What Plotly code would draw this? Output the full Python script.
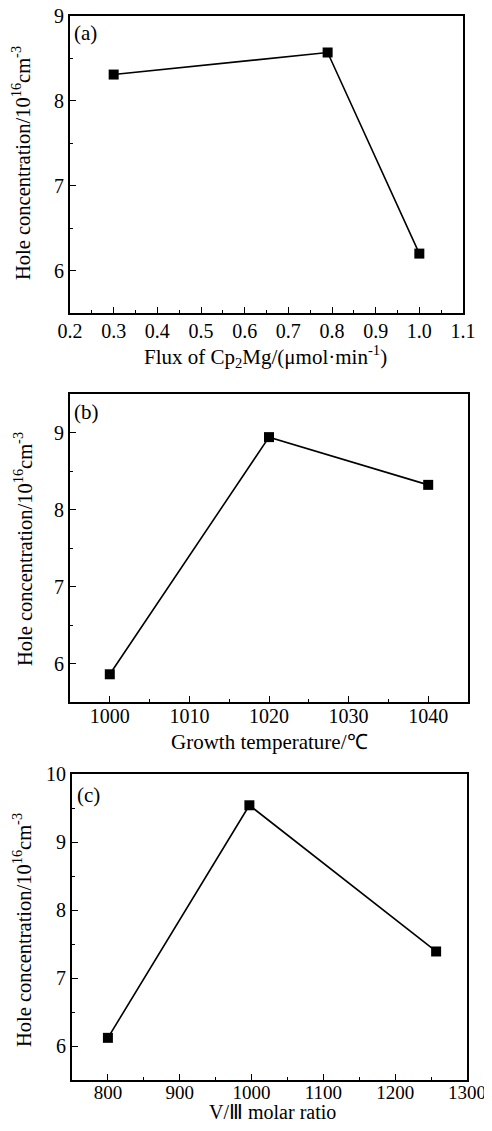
import plotly.graph_objects as go

# Panel (a)
flux = [0.3, 0.79, 1.0]
hole_a = [8.31, 8.57, 6.2]
# Panel (b)
temp = [1000, 1020, 1040]
hole_b = [5.86, 8.94, 8.32]
# Panel (c)
ratio = [800, 997, 1257]
hole_c = [6.12, 9.54, 7.39]

# page body has an 8px margin on every side: figure fills 492x1131 minus 16px
OFF = 8
W, H = 492 - 2 * OFF, 1131 - 2 * OFF
FONT = "Liberation Serif, Times New Roman, serif"

def px_x(a, b):
    return [(a - OFF) / W, (b - OFF) / W]

def px_y(top, bottom):
    return [1 - (bottom - OFF) / H, 1 - (top - OFF) / H]

fig = go.Figure()
series = [(flux, hole_a, "x", "y"), (temp, hole_b, "x2", "y2"), (ratio, hole_c, "x3", "y3")]
for xs, ys, xa, ya in series:
    fig.add_trace(go.Scatter(x=xs, y=ys, xaxis=xa, yaxis=ya, mode="lines+markers",
                             line=dict(color="black", width=1.6),
                             marker=dict(symbol="square", size=10, color="black"),
                             showlegend=False))

def xax(domain, rng, dtick, t0, minor, fmt, anchor, size=20, standoff=0):
    return dict(domain=domain, range=rng, dtick=dtick, tick0=t0, ticks="inside", ticklen=6,
                tickwidth=1.3, tickcolor="black", showline=True, linecolor="black", linewidth=1.8,
                mirror=True, showgrid=False, zeroline=False, tickformat=fmt, anchor=anchor,
                automargin=False, ticklabeloverflow="allow", ticklabelstandoff=standoff,
                minor=dict(dtick=minor, ticks="inside", ticklen=3, tickcolor="black", showgrid=False),
                tickfont=dict(family=FONT, size=size, color="black"))

def yax(domain, rng, anchor):
    return dict(domain=domain, range=rng, dtick=1, tick0=6, ticks="inside", ticklen=6,
                tickwidth=1.3, tickcolor="black", showline=True, linecolor="black", linewidth=1.8,
                mirror=True, showgrid=False, zeroline=False, anchor=anchor, automargin=False,
                ticklabeloverflow="allow",
                minor=dict(dtick=0.5, ticks="inside", ticklen=3, tickcolor="black", showgrid=False),
                tickfont=dict(family=FONT, size=20, color="black"))

fig.update_layout(
    width=W, height=H, margin=dict(l=0, r=0, t=0, b=0, autoexpand=False),
    paper_bgcolor="white", plot_bgcolor="white",
    xaxis=xax(px_x(70, 463), [0.2, 1.1], 0.1, 0.2, 0.05, ".1f", "y", standoff=-1),
    yaxis=yax(px_y(16, 313), [5.5, 9], "x"),
    xaxis2=xax(px_x(70, 468), [995, 1045], 10, 1000, 5, "d", "y2", standoff=-5),
    yaxis2=yax(px_y(394, 702), [5.5, 9.5], "x2"),
    xaxis3=xax(px_x(72, 467), [750, 1300], 100, 800, 50, "d", "y3", size=19, standoff=-6),
    yaxis3=yax(px_y(774, 1080), [5.5, 10], "x3"),
)

ytitle = "Hole concentration/10<sup>16</sup>cm<sup>-3</sup>"
annots = [
    ("Flux of Cp<sub>2</sub>Mg/(μmol·min<sup>-1</sup>)", 265, 356, 0, 21),
    ("Growth temperature/℃", 269, 742, 0, 21),
    ("V/Ⅲ molar ratio", 272, 1112, 0, 20),
    (ytitle, 21, 163, -90, 20.5),
    (ytitle, 23, 549, -90, 20.5),
    (ytitle, 22, 930, -90, 20.5),
]
for text, x, y, ang, size in annots:
    fig.add_annotation(text=text, x=(x - OFF) / W, y=1 - (y - OFF) / H, xref="paper", yref="paper",
                       showarrow=False, textangle=ang, xanchor="center", yanchor="middle",
                       font=dict(family=FONT, size=size, color="black"))

for text, x, y in [("(a)", 72, 33), ("(b)", 72, 412), ("(c)", 75, 795)]:
    fig.add_annotation(text=text, x=(x - OFF) / W, y=1 - (y - OFF) / H, xref="paper", yref="paper",
                       showarrow=False, xanchor="left", yanchor="middle",
                       font=dict(family=FONT, size=21, color="black"))

fig.write_html("out.html")
